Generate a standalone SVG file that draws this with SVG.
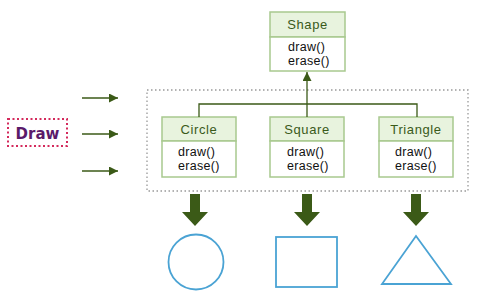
<svg xmlns="http://www.w3.org/2000/svg" width="480" height="300" viewBox="0 0 480 300">
<defs>
<style>
.box{fill:#fff;stroke:#a8c98e;stroke-width:1.5}
.hdr{fill:#e8f3de;stroke:#a8c98e;stroke-width:1.5}
.title{font-family:"Liberation Sans",Arial,sans-serif;font-size:13px;fill:#3a5a1a;text-anchor:middle;letter-spacing:0.6px}
.meth{font-family:"Liberation Sans",Arial,sans-serif;font-size:12.5px;fill:#111;letter-spacing:0.3px}
.conn{stroke:#3b5a17;stroke-width:1.3;fill:none}
.shape{fill:none;stroke:#4aa3d4;stroke-width:1.8}
.big{fill:#3b5a17}
</style>
<marker id="ah" viewBox="0 0 10 10" refX="10" refY="5" markerWidth="9" markerHeight="9" markerUnits="userSpaceOnUse" orient="auto">
<path d="M0,0 L10,5 L0,10 Z" fill="#3b5a17"/>
</marker>
</defs>
<rect x="147" y="90" width="321" height="101" fill="none" stroke="#999" stroke-width="1.3" stroke-dasharray="1.5,2.5"/>
<g id="shape">
<rect class="hdr" x="270" y="12" width="75" height="25"/>
<rect class="box" x="270" y="37" width="75" height="34"/>
<text class="title" x="307.5" y="29">Shape</text>
<text class="meth" x="288" y="51">draw()</text>
<text class="meth" x="288" y="65">erase()</text>
</g>
<g id="circle">
<rect class="hdr" x="162" y="117" width="74" height="24"/>
<rect class="box" x="162" y="141" width="74" height="36"/>
<text class="title" x="199" y="134">Circle</text>
<text class="meth" x="178" y="156">draw()</text>
<text class="meth" x="178" y="170">erase()</text>
</g>
<g id="square">
<rect class="hdr" x="270" y="117" width="74" height="24"/>
<rect class="box" x="270" y="141" width="74" height="36"/>
<text class="title" x="307" y="134">Square</text>
<text class="meth" x="287" y="156">draw()</text>
<text class="meth" x="287" y="170">erase()</text>
</g>
<g id="triangle">
<rect class="hdr" x="379" y="117" width="74" height="24"/>
<rect class="box" x="379" y="141" width="74" height="36"/>
<text class="title" x="416" y="134">Triangle</text>
<text class="meth" x="395" y="156">draw()</text>
<text class="meth" x="395" y="170">erase()</text>
</g>
<g id="draw">
<rect x="8" y="119" width="59" height="27" fill="#fff" stroke="#d42a5c" stroke-width="2" stroke-dasharray="2,2.5"/>
<text x="37.5" y="138.5" font-family="Verdana,'DejaVu Sans',sans-serif" font-weight="bold" font-size="15" fill="#5a1a6a" text-anchor="middle">Draw</text>
</g>
<g id="connectors">
<path class="conn" d="M199,117 V104 H417 V117"/>
<line class="conn" x1="307" y1="117" x2="307" y2="72" marker-end="url(#ah)"/>
<line class="conn" x1="82" y1="98" x2="118" y2="98" marker-end="url(#ah)"/>
<line class="conn" x1="82" y1="134" x2="118" y2="134" marker-end="url(#ah)"/>
<line class="conn" x1="82" y1="171" x2="118" y2="171" marker-end="url(#ah)"/>
<path class="big" d="M190,194 H200 V212 H208 L195,226 L182,212 H190 Z"/>
<path class="big" d="M302,194 H312 V212 H320 L307,226 L294,212 H302 Z"/>
<path class="big" d="M411,194 H421 V212 H429 L416,226 L403,212 H411 Z"/>
</g>
<g id="shapes">
<circle class="shape" cx="196" cy="262" r="27.5"/>
<rect class="shape" x="276" y="237" width="61" height="50"/>
<path class="shape" d="M416,236 L451,284 L382,284 Z"/>
</g>
</svg>
